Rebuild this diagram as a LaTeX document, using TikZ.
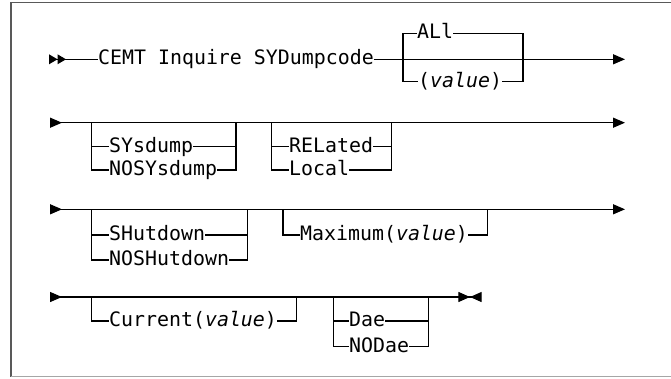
\documentclass[tikz,border=0pt]{standalone}
\usepackage{fontspec}
\newfontfamily\railfont{DejaVu Sans Mono}
\usetikzlibrary{arrows.meta}
\tikzset{kw/.style={anchor=west,inner sep=0pt,text height=14.8pt,text depth=3.6pt,font=\railfont\fontsize{19.9}{22}\selectfont},
  rail/.style={line width=1.3pt},
  go/.style={-{Triangle[length=12pt,width=10pt]}},
  comego/.style={{Triangle[reversed,length=12pt,width=10pt]}-{Triangle[length=12pt,width=10pt]}},
  frame/.style={line width=1.5pt}}

\begin{document}
\begin{tikzpicture}[x=1pt,y=-1pt]
	  \useasboundingbox (0,0) rectangle (671,378);
	  % frame
	  \draw[frame,draw=black!65] (671,2.7) -- (11,2.7) -- (11,376.5);
	  \draw[frame,draw=black!35] (11,376.5) -- (671,376.5);
	  
	  % row 1
	  \path (49,59.3) coordinate (s1)  (625,59.3) coordinate (e1)
	          (403,59.3) coordinate (l1)  (523,59.3) coordinate (r1);
	  \node[kw] (cemt) at (98,59.3) {CEMT Inquire SYDumpcode};
	  \node[kw] (all) at (417,33.3) {ALl};
	  \node[kw] (val) at (418,81.7) {(\textit{value})};
	  \foreach \dx in {0,8.5}{
	      \fill (s1) ++(\dx,-5) -- ++(8.5,5) -- ++(-8.5,5) -- cycle;
	  }
	  \draw[rail] (s1) -- (cemt.west);
	  \draw[rail,go] (cemt.east) -- (e1);
	  \draw[rail] (all.west) -| (l1) |- (val.west)
	      (all.east) -| (r1) |- (val.east);
	  
	  % row 2
	  \path (50,122.7) coordinate (s2)  (625,122.7) coordinate (e2)
	          (91.7,122.7) coordinate (l2a)  (236,122.7) coordinate (r2a)
	          (271.7,122.7) coordinate (l2b)  (391.7,122.7) coordinate (r2b);
	  \node[kw] (sys) at (109,146.7) {SYsdump};
	  \node[kw] (nosys) at (109,170) {NOSYsdump};
	  \node[kw] (rel) at (289,146.7) {RELated};
	  \node[kw] (loc) at (289,170) {Local};
	  \draw[rail,comego] (s2) -- (e2);
	  
	  % row 3
	  \path (50,209.3) coordinate (s3)  (625,209.3) coordinate (e3)
	          (91.7,209.3) coordinate (l3a)  (247.5,209.3) coordinate (r3a)
	          (283,209.3) coordinate (l3b)  (487.5,209.3) coordinate (r3b);
	  \node[kw] (shut) at (109,235) {SHutdown};
	  \node[kw] (noshut) at (109,260) {NOSHutdown};
	  \node[kw] (max) at (300,235) {Maximum(\textit{value})};
	  \draw[rail,comego] (s3) -- (e3);
	  
	  % row 4
	  \path (50,297) coordinate (s4)  (481.7,297) coordinate (e4)
	          (91.7,297) coordinate (l4a)  (296.7,297) coordinate (r4a)
	          (333.3,297) coordinate (l4b)  (428.3,297) coordinate (r4b);
	  \node[kw] (cur) at (109,321) {Current(\textit{value})};
	  \node[kw] (dae) at (349,321) {Dae};
	  \node[kw] (nodae) at (349,346.7) {NODae};
	  \draw[rail,{Triangle[reversed,length=12pt,width=10pt]}-{Triangle[length=11.7pt,width=10pt,sep=0pt]Triangle[reversed,length=11.7pt,width=10pt]}] (s4) -- (e4);
	  
	  % brackets
	  \foreach \up/\dn/\l/\r in {sys/nosys/l2a/r2a,rel/loc/l2b/r2b,shut/noshut/l3a/r3a,dae/nodae/l4b/r4b}{
	      \draw[rail] (\l) |- (\dn.west) (\dn.east) -| (\r)
	          (\l |- \up.west) -- (\up.west) (\up.east) -- (\r |- \up.east);
	  }
	  \foreach \n/\l/\r in {max/l3b/r3b,cur/l4a/r4a}{
	      \draw[rail] (\l) |- (\n.west) (\n.east) -| (\r);
	  }
\end{tikzpicture}
\end{document}
